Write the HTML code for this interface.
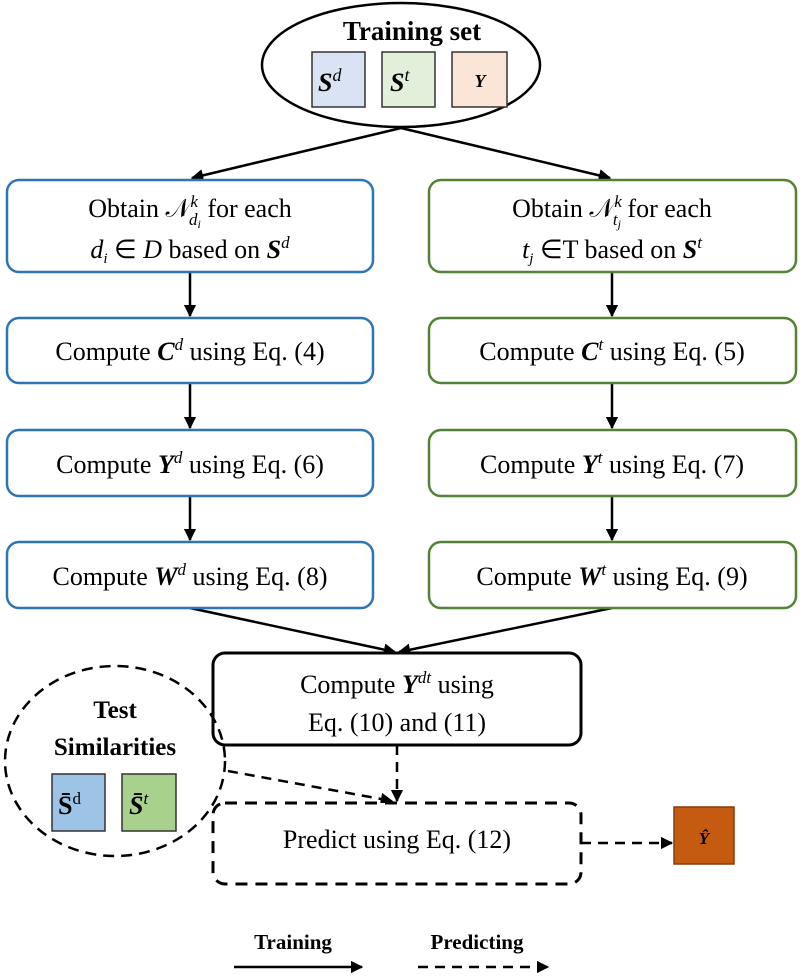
<!DOCTYPE html>
<html><head><meta charset="utf-8"><style>
body{margin:0;background:#fff}
svg{display:block;font-family:"Liberation Serif",serif}
</style></head><body>
<svg width="804" height="979" viewBox="0 0 804 979" xmlns="http://www.w3.org/2000/svg">
<defs>
<marker id="a" viewBox="0 0 10 10" refX="9" refY="5" markerWidth="5" markerHeight="5" orient="auto"><path d="M0,0L10,5L0,10z" fill="#000"/></marker>
</defs>
<ellipse cx="401" cy="65" rx="139" ry="62" fill="#fff" stroke="#000" stroke-width="2.5"/>
<text x="412" y="40" font-size="27" font-weight="bold" text-anchor="middle">Training set</text>
<rect x="312" y="52" width="53" height="55" fill="#dae3f3" stroke="#333" stroke-width="1.5"/>
<rect x="382" y="52" width="53" height="55" fill="#e2efda" stroke="#333" stroke-width="1.5"/>
<rect x="452" y="52" width="55" height="55" fill="#fbe5d6" stroke="#333" stroke-width="1.5"/>
<text x="318" y="91" font-size="26" font-weight="bold" font-style="italic">S<tspan font-size="18" font-weight="normal" dy="-10">d</tspan></text>
<text x="390" y="91" font-size="26" font-weight="bold" font-style="italic">S<tspan font-size="18" font-weight="normal" dy="-10">t</tspan></text>
<text x="480" y="87" font-size="18" font-weight="bold" font-style="italic" text-anchor="middle">Y</text>

<g stroke="#000" stroke-width="2.5" fill="none" marker-end="url(#a)">
<line x1="401" y1="128" x2="192" y2="178"/>
<line x1="401" y1="128" x2="610" y2="178"/>
<line x1="190" y1="272" x2="190" y2="316"/>
<line x1="190" y1="383" x2="190" y2="428"/>
<line x1="190" y1="496" x2="190" y2="540"/>
<line x1="612" y1="272" x2="612" y2="316"/>
<line x1="612" y1="383" x2="612" y2="428"/>
<line x1="612" y1="496" x2="612" y2="540"/>
<line x1="190" y1="608" x2="395" y2="652"/>
<line x1="612" y1="608" x2="399" y2="652"/>
<line x1="234" y1="967" x2="362" y2="967"/>
</g>
<g stroke="#000" stroke-width="2.5" fill="none" stroke-dasharray="10,7" marker-end="url(#a)">
<line x1="397" y1="745" x2="397" y2="801"/>
<line x1="228" y1="771" x2="392" y2="801"/>
<line x1="581" y1="843" x2="672" y2="843"/>
<line x1="418" y1="967" x2="548" y2="967"/>
</g>

<g fill="#fff" stroke-width="2.5">
<rect x="7" y="180" width="366" height="92" rx="12" stroke="#2e75b6"/>
<rect x="7" y="318" width="366" height="65" rx="12" stroke="#2e75b6"/>
<rect x="7" y="430" width="366" height="66" rx="12" stroke="#2e75b6"/>
<rect x="7" y="542" width="366" height="66" rx="12" stroke="#2e75b6"/>
<rect x="429" y="180" width="367" height="92" rx="12" stroke="#548235"/>
<rect x="429" y="318" width="367" height="65" rx="12" stroke="#548235"/>
<rect x="429" y="430" width="367" height="66" rx="12" stroke="#548235"/>
<rect x="429" y="542" width="367" height="66" rx="12" stroke="#548235"/>
<rect x="213" y="653" width="368" height="92" rx="12" stroke="#000" stroke-width="3"/>
<rect x="213" y="803" width="368" height="81" rx="12" stroke="#000" stroke-width="3" stroke-dasharray="12,8"/>
</g>

<g font-size="26" text-anchor="middle">
<text x="190" y="217">Obtain 𝒩<tspan font-size="17" font-style="italic" dy="-10">k</tspan><tspan font-size="17" font-style="italic" dx="-9" dy="18">d</tspan><tspan font-size="12" font-style="italic" dy="3">i</tspan><tspan dy="-11"> for each</tspan></text>
<text x="190" y="258"><tspan font-style="italic">d</tspan><tspan font-size="15" font-style="italic" dy="5">i</tspan><tspan dy="-5"> ∈ </tspan><tspan font-style="italic">D</tspan> based on <tspan font-weight="bold" font-style="italic">S</tspan><tspan font-size="17" font-style="italic" dy="-10">d</tspan></text>
<text x="612" y="217">Obtain 𝒩<tspan font-size="17" font-style="italic" dy="-10">k</tspan><tspan font-size="17" font-style="italic" dx="-9" dy="18">t</tspan><tspan font-size="12" font-style="italic" dy="3">j</tspan><tspan dy="-11"> for each</tspan></text>
<text x="612" y="258"><tspan font-style="italic">t</tspan><tspan font-size="15" font-style="italic" dy="5">j</tspan><tspan dy="-5"> ∈T based on </tspan><tspan font-weight="bold" font-style="italic">S</tspan><tspan font-size="17" font-style="italic" dy="-10">t</tspan></text>
<text x="190" y="360">Compute <tspan font-weight="bold" font-style="italic">C</tspan><tspan font-size="17" font-style="italic" dy="-10">d</tspan><tspan dy="10"> using Eq. (4)</tspan></text>
<text x="612" y="360">Compute <tspan font-weight="bold" font-style="italic">C</tspan><tspan font-size="17" font-style="italic" dy="-10">t</tspan><tspan dy="10"> using Eq. (5)</tspan></text>
<text x="190" y="473">Compute <tspan font-weight="bold" font-style="italic">Y</tspan><tspan font-size="17" font-style="italic" dy="-10">d</tspan><tspan dy="10"> using Eq. (6)</tspan></text>
<text x="612" y="473">Compute <tspan font-weight="bold" font-style="italic">Y</tspan><tspan font-size="17" font-style="italic" dy="-10">t</tspan><tspan dy="10"> using Eq. (7)</tspan></text>
<text x="190" y="585">Compute <tspan font-weight="bold" font-style="italic">W</tspan><tspan font-size="17" font-style="italic" dy="-10">d</tspan><tspan dy="10"> using Eq. (8)</tspan></text>
<text x="612" y="585">Compute <tspan font-weight="bold" font-style="italic">W</tspan><tspan font-size="17" font-style="italic" dy="-10">t</tspan><tspan dy="10">  using Eq. (9)</tspan></text>
<text x="397" y="693">Compute <tspan font-weight="bold" font-style="italic">Y</tspan><tspan font-size="17" font-style="italic" dy="-10">dt</tspan><tspan dy="10"> using</tspan></text>
<text x="397" y="731">Eq. (10) and (11)</text>
<text x="397" y="848">Predict using Eq. (12)</text>
</g>

<ellipse cx="115" cy="761" rx="110" ry="95" fill="none" stroke="#000" stroke-width="2.5" stroke-dasharray="11,7"/>
<text x="115" y="718" font-size="25" font-weight="bold" text-anchor="middle">Test</text>
<text x="115" y="755" font-size="25" font-weight="bold" text-anchor="middle">Similarities</text>
<rect x="52" y="774" width="53" height="57" fill="#9dc3e6" stroke="#333" stroke-width="1.5"/>
<rect x="122" y="774" width="54" height="57" fill="#a9d18e" stroke="#333" stroke-width="1.5"/>
<text x="58" y="814" font-size="26" font-weight="bold">S̄<tspan font-size="17" font-weight="normal" dy="-10">d</tspan></text>
<text x="129" y="814" font-size="26" font-weight="bold" font-style="italic">S̄<tspan font-size="17" font-weight="normal" dy="-10">t</tspan></text>

<rect x="674" y="807" width="60" height="57" fill="#c55a11" stroke="#843c0c" stroke-width="1.5"/>
<text x="704" y="844" font-size="17" font-weight="bold" font-style="italic" text-anchor="middle">Ŷ</text>

<text x="293" y="949" font-size="21" font-weight="bold" text-anchor="middle">Training</text>
<text x="477" y="949" font-size="21" font-weight="bold" text-anchor="middle">Predicting</text>
</svg>
</body></html>
